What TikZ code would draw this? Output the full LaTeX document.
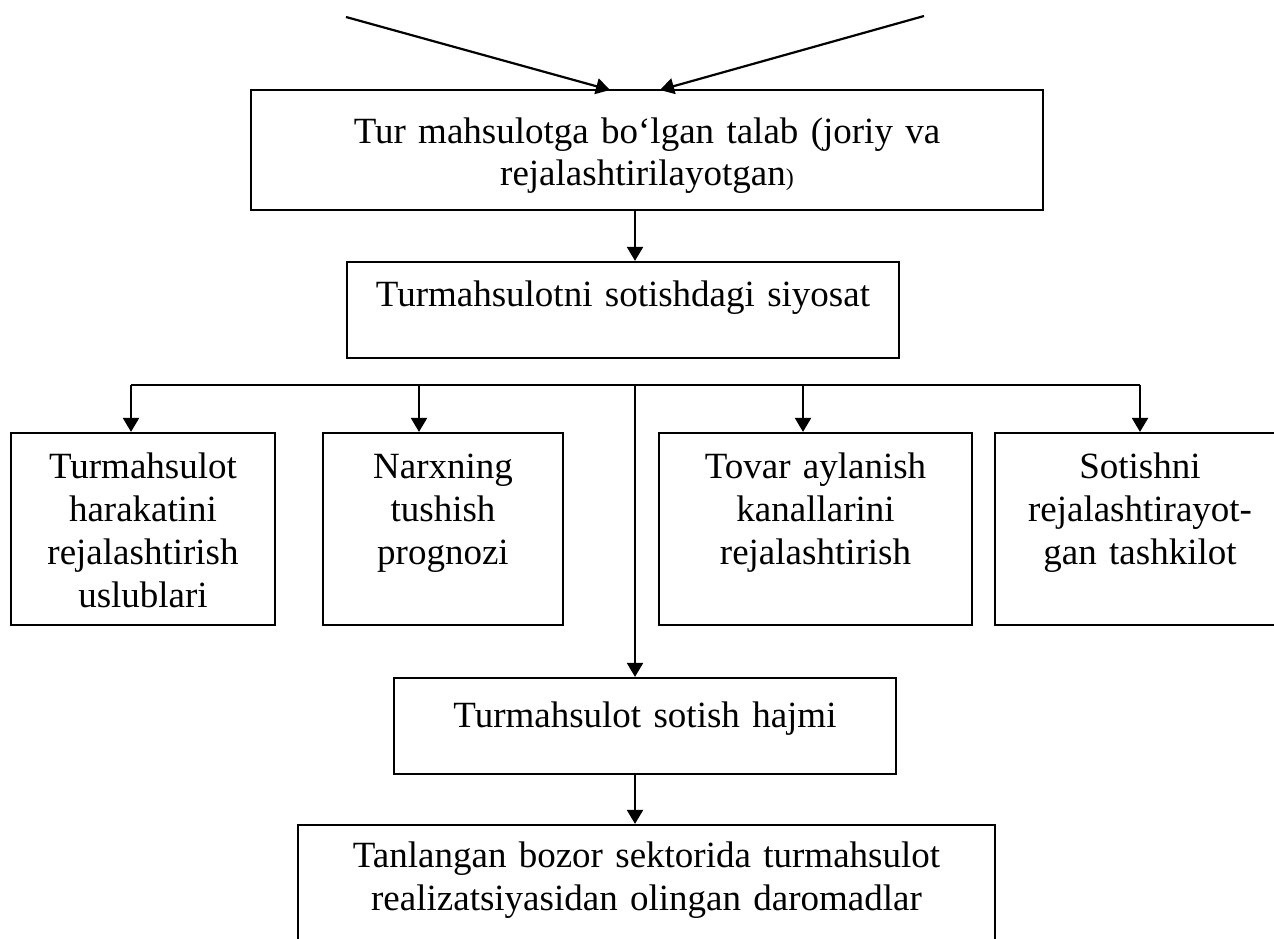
\documentclass[tikz,border=0pt]{standalone}
\usepackage{fontspec}
\setmainfont{Liberation Serif}
\usetikzlibrary{arrows.meta}
\begin{document}
\begin{tikzpicture}[x=1pt,y=-1pt,
  box/.style={draw, line width=2.2pt, rectangle, inner sep=0pt},
  txt/.style={font=\fontsize{37}{43}\selectfont, align=center, inner sep=0pt, anchor=base},
  conn/.style={line width=2.2pt},
  arr/.style={line width=2.2pt, -{Triangle[width=16pt,length=14pt]}}]
\useasboundingbox (0,0) rectangle (1274,939);
\clip (0,0) rectangle (1274,939);
% boxes
\node[box, minimum width=792pt, minimum height=120pt] (top) at (647,150) {};
\node[box, minimum width=552pt, minimum height=96pt] (pol) at (623,310) {};
\node[box, minimum width=264pt, minimum height=192pt] (b1) at (143,529) {};
\node[box, minimum width=240pt, minimum height=192pt] (b2) at (443,529) {};
\node[box, minimum width=313pt, minimum height=192pt] (b3) at (815.5,529) {};
\node[box, minimum width=290pt, minimum height=192pt] (b4) at (1140,529) {};
\node[box, minimum width=502pt, minimum height=96pt] (vol) at (645,726) {};
\node[box, minimum width=697pt, minimum height=140pt] (inc) at (646.5,895) {};
% texts
\node[txt, text width=760pt] (ttop) at (647,143) {Tur mahsulotga bo‘lgan talab (joriy va\\rejalashtirilayotgan{\fontsize{24}{43}\selectfont)}};
\node[txt, text width=540pt] (tpol) at (623,306) {Turmahsulotni sotishdagi siyosat};
\node[txt, text width=260pt] (tb1) at (143,478) {Turmahsulot\\harakatini\\rejalashtirish\\uslublari};
\node[txt, text width=236pt] (tb2) at (443,478) {Narxning\\tushish\\prognozi};
\node[txt, text width=300pt] (tb3) at (815.5,478) {Tovar aylanish\\kanallarini\\rejalashtirish};
\node[txt, text width=286pt] (tb4) at (1140,478) {Sotishni\\rejalashtirayot-\\gan tashkilot};
\node[txt, text width=490pt] (tvol) at (645,727) {Turmahsulot sotish hajmi};
\node[txt, text width=690pt] (tinc) at (646.5,867) {Tanlangan bozor sektorida turmahsulot\\realizatsiyasidan olingan daromadlar};
% connector points
\coordinate (s1) at (346,17);
\coordinate (s2) at (924,16);
\coordinate (t1) at (610,90);
\coordinate (t2) at (660,90);
\coordinate (j1) at (131,385);
\coordinate (j2) at (419,385);
\coordinate (jc) at (635,385);
\coordinate (j3) at (803,385);
\coordinate (j4) at (1140,385);
% connectors
\draw[arr] (s1) -- (t1);
\draw[arr] (s2) -- (t2);
\draw[arr] (top.south -| jc) -- (pol.north -| jc);
\draw[conn] (j1) -- (j4);
\draw[arr] (j1) -- (j1 |- b1.north);
\draw[arr] (j2) -- (j2 |- b2.north);
\draw[arr] (j3) -- (j3 |- b3.north);
\draw[arr] (j4) -- (j4 |- b4.north);
\draw[arr] (jc) -- (jc |- vol.north);
\draw[arr] (vol.south -| jc) -- (inc.north -| jc);
\end{tikzpicture}
\end{document}
